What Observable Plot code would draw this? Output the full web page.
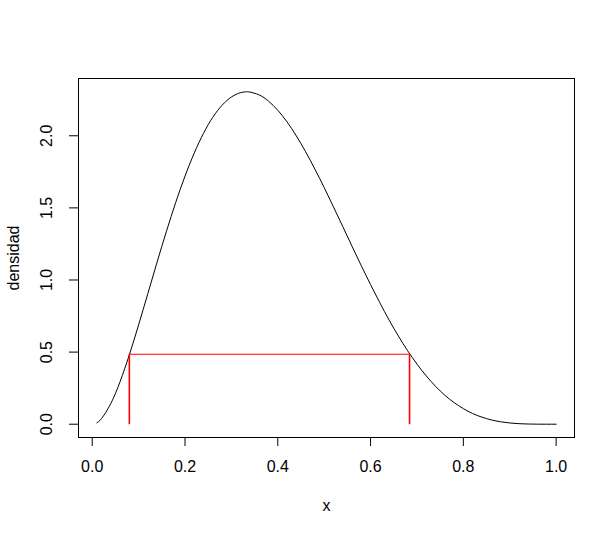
<!DOCTYPE html>
<html>
<head>
<meta charset="utf-8">
<script src="https://cdn.jsdelivr.net/npm/d3@7"></script>
<script src="https://cdn.jsdelivr.net/npm/@observablehq/plot@0.6"></script>
<style>
  html, body { margin: 0; padding: 0; background: #fff; }
  #chart { width: 615px; height: 536px; }
</style>
</head>
<body>
<div id="chart"></div>
<script>
// density curve
const xs = [0.01, 0.02, 0.04, 0.06, 0.08, 0.10, 0.12, 0.14, 0.16, 0.18, 0.20, 0.22, 0.24, 0.26, 0.28, 0.30, 0.32, 0.333, 0.34, 0.36, 0.38, 0.40, 0.42, 0.44, 0.46, 0.48, 0.50, 0.52, 0.54, 0.56, 0.58, 0.60, 0.62, 0.64, 0.66, 0.68, 0.70, 0.72, 0.74, 0.76, 0.78, 0.80, 0.82, 0.84, 0.86, 0.88, 0.90, 0.92, 0.94, 0.96, 0.98, 1.00];
const dens = [0.010, 0.039, 0.143, 0.295, 0.481, 0.689, 0.907, 1.126, 1.338, 1.538, 1.720, 1.881, 2.018, 2.129, 2.212, 2.269, 2.299, 2.305, 2.303, 2.283, 2.240, 2.177, 2.096, 1.999, 1.889, 1.769, 1.641, 1.507, 1.371, 1.234, 1.099, 0.968, 0.842, 0.722, 0.611, 0.509, 0.417, 0.335, 0.263, 0.201, 0.150, 0.108, 0.074, 0.049, 0.030, 0.017, 0.0085, 0.0036, 0.0012, 0.0003, 0.00002, 0];
// interval markers
const lowerX = 0.080;
const upperX = 0.684;
const cutY = 0.485;
const xTicks = [0, 0.2, 0.4, 0.6, 0.8, 1.0];
const yTicks = [0, 0.5, 1.0, 1.5, 2.0];
const xLabel = "x";
const yLabel = "densidad";

const curve = xs.map((x, i) => ({x, y: dens[i]}));
const vsegs = [
  {x1: lowerX, y1: 0, x2: lowerX, y2: cutY},
  {x1: upperX, y1: 0, x2: upperX, y2: cutY}
];
const hsegs = [
  {x1: lowerX, y1: cutY, x2: upperX, y2: cutY}
];
const xMin = d3.min(xs), xMax = d3.max(xs);
const yMin = 0, yMax = d3.max(dens);
const xPad = (xMax - xMin) * 0.04, yPad = (yMax - yMin) * 0.04;

const font = "'Liberation Sans', Arial, Helvetica, sans-serif";
const fs = 16;

const chart = Plot.plot({
  width: 615,
  height: 536,
  marginLeft: 78,
  marginRight: 41,
  marginTop: 78,
  marginBottom: 99,
  style: {fontFamily: font, fontSize: fs + "px", background: "#fff", color: "#000"},
  x: {domain: [xMin - xPad, xMax + xPad]},
  y: {domain: [yMin - yPad, yMax + yPad]},
  marks: [
    Plot.frame({stroke: "#000", strokeWidth: 1}),
    Plot.axisX({ticks: xTicks, tickSize: 9, tickPadding: 14, tickFormat: d3.format(".1f"), label: null, fontSize: fs}),
    Plot.axisY({ticks: yTicks, tickSize: 9, tickFormat: () => "", label: null}),
    Plot.text(yTicks, {y: d => d, frameAnchor: "left", dx: -32, rotate: -90, text: d => d3.format(".1f")(d), fontSize: fs, textAnchor: "middle", lineAnchor: "middle"}),
    Plot.text([yLabel], {frameAnchor: "left", dx: -65, rotate: -90, text: d => d, fontSize: fs, textAnchor: "middle", lineAnchor: "middle"}),
    Plot.text([xLabel], {frameAnchor: "bottom", dy: 68, text: d => d, fontSize: fs, textAnchor: "middle", lineAnchor: "middle"}),
    Plot.line(curve, {x: "x", y: "y", stroke: "#000", strokeWidth: 1, curve: "natural"}),
    Plot.link(vsegs, {x1: "x1", y1: "y1", x2: "x2", y2: "y2", stroke: "#ff0000", strokeWidth: 1.6}),
    Plot.link(hsegs, {x1: "x1", y1: "y1", x2: "x2", y2: "y2", stroke: "#ff0000", strokeWidth: 1})
  ]
});
document.getElementById("chart").appendChild(chart);
</script>
</body>
</html>
